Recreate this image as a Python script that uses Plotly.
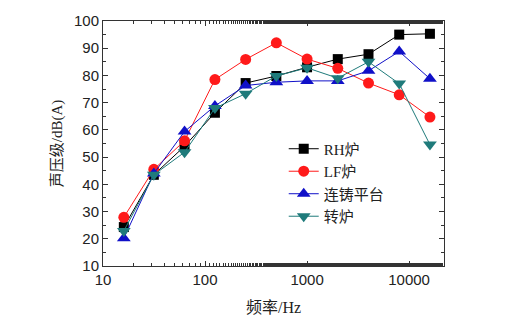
import plotly.graph_objects as go

freq = [16, 31.5, 63, 125, 250, 500, 1000, 2000, 4000, 8000, 16000]
rh = [24.3, 43.5, 54.0, 66.3, 77.2, 79.8, 83.0, 86.0, 87.8, 95.0, 95.3]
lf = [27.9, 45.5, 56.0, 78.5, 85.9, 92.0, 86.0, 82.6, 77.2, 72.9, 64.7]
cc = [20.2, 44.0, 59.4, 68.8, 76.3, 77.5, 78.0, 78.0, 81.7, 88.8, 78.8]
zl = [22.9, 43.5, 51.8, 68.0, 73.3, 79.8, 82.8, 79.0, 85.0, 77.0, 54.6]

names = ["RH炉", "LF炉", "连铸平台", "转炉"]
xtick_vals = [10, 100, 1000, 10000]
xtick_text = ["10", "100", "1000", "10000"]

series = [
    (rh, names[0], "#000000", "square", 10),
    (lf, names[1], "#ff1a1a", "circle", 11),
    (cc, names[2], "#1010c8", "triangle-up", 12),
    (zl, names[3], "#1f7b7b", "triangle-down", 12),
]

fig = go.Figure()
for ys, nm, col, sym, sz in series:
    fig.add_trace(go.Scatter(
        x=freq, y=ys, name=nm, mode="lines+markers",
        line=dict(color=col, width=1),
        marker=dict(symbol=sym, size=sz, color=col, line=dict(width=0)),
    ))

axis_font = dict(family="Liberation Sans, Arial, sans-serif", size=15, color="#222")
serif = "Liberation Serif, Noto Sans CJK SC, serif"
fig.update_layout(
    width=511, height=325,
    margin=dict(l=103, r=67, t=14, b=59),
    paper_bgcolor="white", plot_bgcolor="white",
    showlegend=True,
    legend=dict(
        x=0.53, y=0.545, xanchor="left", yanchor="top",
        bgcolor="rgba(0,0,0,0)",
        font=dict(family=serif, size=15, color="#222"),
        itemwidth=30, tracegroupgap=0,
    ),
)
fig.update_xaxes(
    type="log", range=[1, 4.342],
    tickvals=xtick_vals, ticktext=xtick_text,
    ticks="inside", ticklen=5, tickcolor="#333",
    minor=dict(ticks="inside", ticklen=3, tickcolor="#333", showgrid=False),
    showline=True, linecolor="#333", linewidth=1, mirror="ticks",
    showgrid=False, zeroline=False,
    tickfont=axis_font,
    title=dict(text="频率/Hz", font=dict(family=serif, size=16, color="#222"), standoff=14),
)
fig.update_yaxes(
    range=[10, 100], dtick=10,
    ticks="inside", ticklen=5, tickcolor="#333",
    minor=dict(ticks="inside", ticklen=3, dtick=5, tickcolor="#333", showgrid=False),
    showline=True, linecolor="#333", linewidth=1, mirror="ticks",
    showgrid=False, zeroline=False,
    tickfont=axis_font,
    title=dict(text="声压级/dB(A)", font=dict(family=serif, size=15, color="#222"), standoff=7),
)
fig.write_html("out.html")
